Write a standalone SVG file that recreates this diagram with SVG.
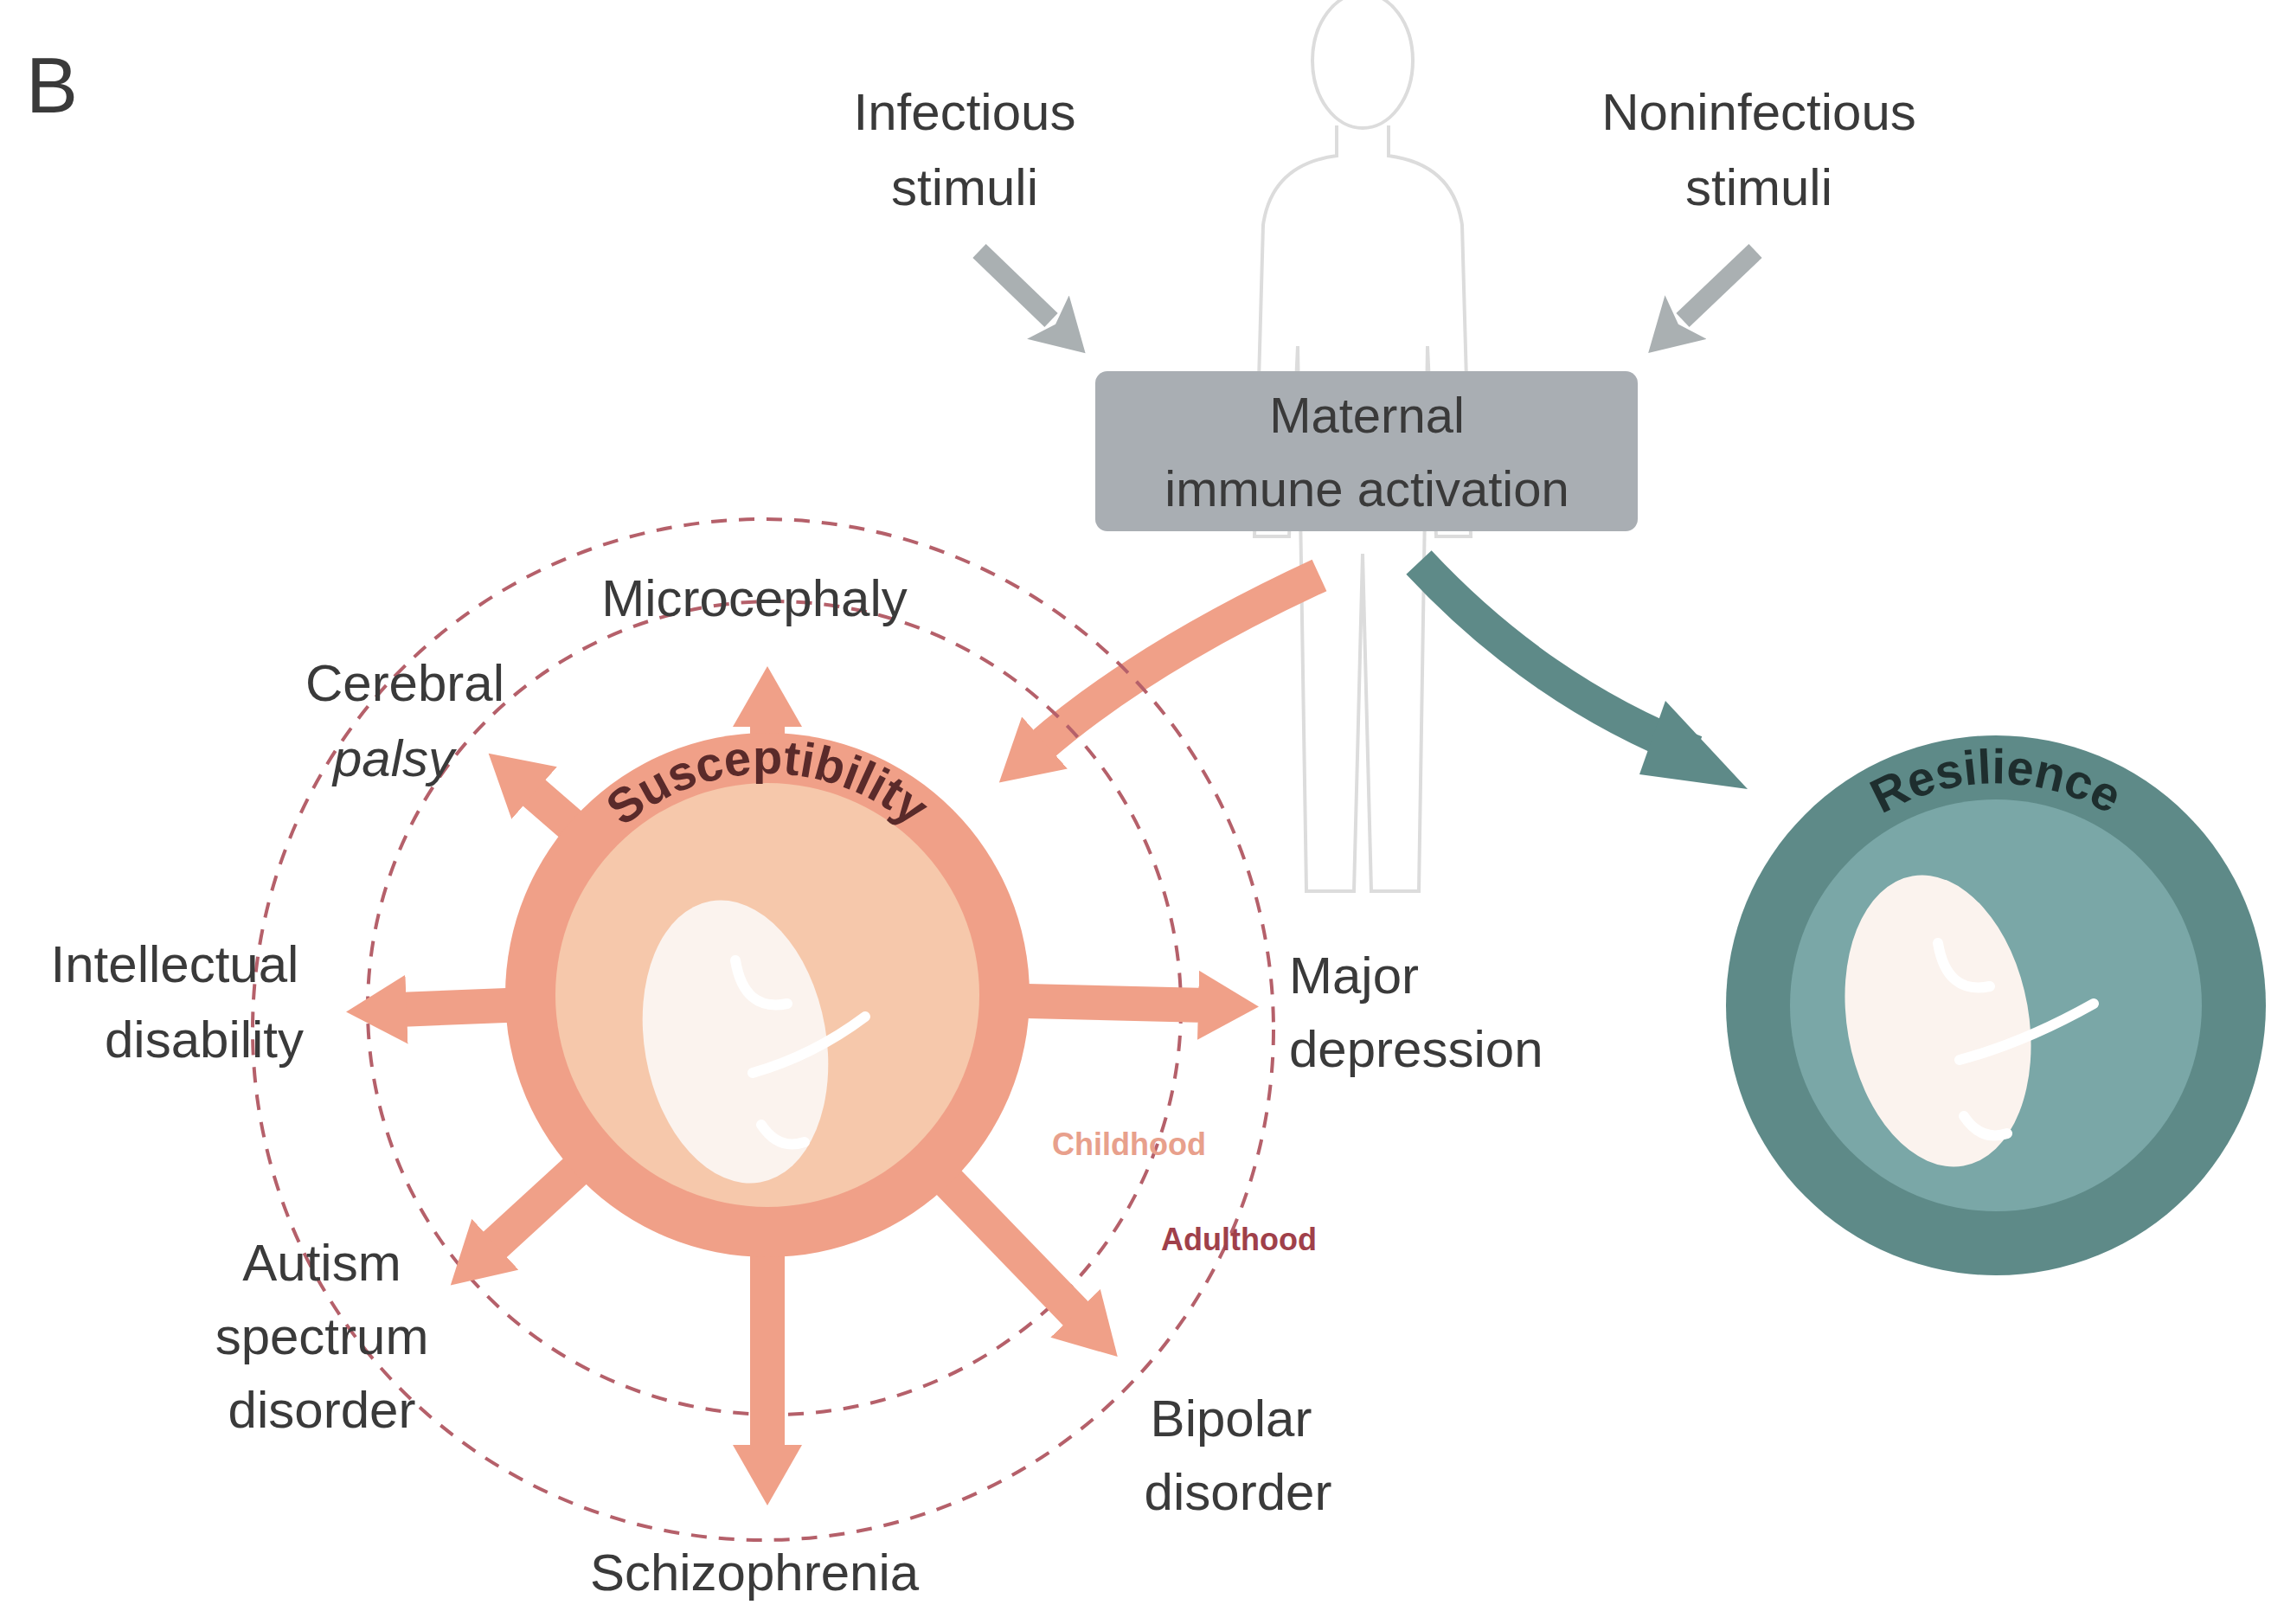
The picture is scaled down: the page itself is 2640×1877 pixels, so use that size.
<svg xmlns="http://www.w3.org/2000/svg" width="2640" height="1877" viewBox="0 0 2640 1877">
<style>
text{font-family:"Liberation Sans",Arial,sans-serif;fill:#3a3a3a}
.lb{font-size:60px;text-anchor:middle}
.dash{fill:none;stroke:#b5606a;stroke-width:4;stroke-dasharray:18 14}
.sa{stroke:#f0a088;stroke-width:40;fill:none;marker-end:url(#sah)}
.fetus{fill:#fbf3ee}
.limb{stroke:#fff;stroke-width:12;fill:none;stroke-linecap:round}
</style>
<defs>
<marker id="sah" markerUnits="userSpaceOnUse" markerWidth="100" markerHeight="100" refX="10" refY="40" orient="auto"><path d="M0,0 L70,40 L0,80 Z" fill="#f0a088"/></marker>
<marker id="gh" markerUnits="userSpaceOnUse" markerWidth="90" markerHeight="90" refX="5" refY="35" orient="auto"><path d="M0,0 L60,35 L0,70 L12,35 Z" fill="#aab0b2"/></marker>
<path id="arcS" d="M647,1063 A255,255 0 0 1 1127,1063"/>
<path id="arcR" d="M2065,1074 A258,258 0 0 1 2549,1074"/>
</defs>
<rect width="2640" height="1877" fill="#fff"/>
<text x="30" y="130" style="font-size:90px">B</text>
<g id="human" fill="none" stroke="#dcdcdc" stroke-width="4">
<ellipse cx="1575" cy="70" rx="58" ry="78"/>
<path d="M1545,145 L1545,180 Q1470,190 1460,260 L1450,620 L1490,620 L1500,400 L1510,1030 L1565,1030 L1575,640 L1585,1030 L1640,1030 L1650,400 L1660,620 L1700,620 L1690,260 Q1680,190 1605,180 L1605,145"/>
</g>
<g id="connectors">
<line x1="1132" y1="290" x2="1215" y2="370" stroke="#aab0b2" stroke-width="22" marker-end="url(#gh)"/>
<line x1="2029" y1="290" x2="1945" y2="370" stroke="#aab0b2" stroke-width="22" marker-end="url(#gh)"/>
<path d="M1525,665 Q1320,760 1200,865" stroke="#f0a088" stroke-width="40" fill="none" marker-end="url(#sah)"/>
<path d="M1640,650 Q1780,800 1960,870" stroke="#5e8a88" stroke-width="40" fill="none"/>
<path d="M1925,810 L2020,912 L1895,895 Z" fill="#5e8a88"/>
</g>
<g id="dashed">
<circle class="dash" cx="882" cy="1190" r="590"/>
<circle class="dash" cx="895" cy="1165" r="470"/>
</g>
<g id="arrows">
<line class="sa" x1="887" y1="1150" x2="887" y2="830"/>
<line class="sa" x1="887" y1="1150" x2="460" y2="1167"/>
<line class="sa" x1="887" y1="1150" x2="1395" y2="1162"/>
<line class="sa" x1="887" y1="1150" x2="887" y2="1680"/>
<line class="sa" x1="887" y1="1150" x2="610" y2="910"/>
<line class="sa" x1="887" y1="1150" x2="565" y2="1445"/>
<line class="sa" x1="887" y1="1150" x2="1250" y2="1525"/>
</g>
<g id="susceptibility">
<circle cx="887" cy="1150" r="303" fill="#f0a088"/>
<circle cx="887" cy="1150" r="245" fill="#f6c8ab"/>
<ellipse class="fetus" cx="850" cy="1204" rx="105" ry="165" transform="rotate(-10 850 1204)"/>
<path class="limb" d="M850,1110 Q860,1170 910,1160 M870,1240 Q940,1220 1000,1175 M880,1300 Q900,1330 930,1320"/>
<text style="font-size:56px;fill:#5a2a2a;text-anchor:middle;font-weight:bold"><textPath href="#arcS" startOffset="50%">Susceptibility</textPath></text>
</g>
<g id="resilience">
<circle cx="2307" cy="1162" r="312" fill="#5e8a88"/>
<circle cx="2307" cy="1162" r="238" fill="#7aa7a7"/>
<ellipse class="fetus" cx="2240" cy="1180" rx="105" ry="170" transform="rotate(-10 2240 1180)"/>
<path class="limb" d="M2240,1090 Q2250,1150 2300,1140 M2265,1225 Q2340,1205 2420,1160 M2270,1290 Q2290,1320 2320,1310"/>
<text style="font-size:56px;fill:#1e2e2e;text-anchor:middle;font-weight:bold"><textPath href="#arcR" startOffset="50%">Resilience</textPath></text>
</g>
<g id="mia">
<rect x="1266" y="429" width="627" height="185" rx="14" fill="#a9aeb3"/>
<text class="lb" x="1580" y="500" style="font-size:58px">Maternal</text>
<text class="lb" x="1580" y="585" style="font-size:58px">immune activation</text>
</g>
<g id="labels">
<text class="lb" x="1115" y="150">Infectious</text>
<text class="lb" x="1115" y="237">stimuli</text>
<text class="lb" x="2033" y="150">Noninfectious</text>
<text class="lb" x="2033" y="237">stimuli</text>
<text class="lb" x="872" y="712">Microcephaly</text>
<text class="lb" x="468" y="810">Cerebral</text>
<text class="lb" x="455" y="897" style="font-style:italic">palsy</text>
<text class="lb" x="202" y="1135">Intellectual</text>
<text class="lb" x="236" y="1222">disability</text>
<text x="1490" y="1148" style="font-size:60px">Major</text>
<text x="1490" y="1233" style="font-size:60px">depression</text>
<text class="lb" x="1305" y="1335" style="font-size:36px;fill:#e8a08c;font-weight:bold">Childhood</text>
<text class="lb" x="1432" y="1445" style="font-size:36px;fill:#a0404a;font-weight:bold">Adulthood</text>
<text class="lb" x="372" y="1480">Autism</text>
<text class="lb" x="372" y="1565">spectrum</text>
<text class="lb" x="372" y="1650">disorder</text>
<text class="lb" x="1423" y="1660">Bipolar</text>
<text class="lb" x="1431" y="1745">disorder</text>
<text class="lb" x="872" y="1838">Schizophrenia</text>
</g>
</svg>
